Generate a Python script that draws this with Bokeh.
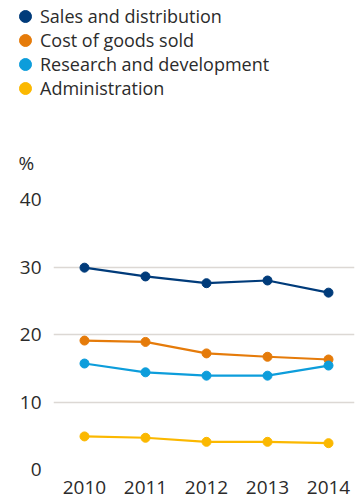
from bokeh.plotting import figure
from bokeh.layouts import column
from bokeh.models import Range1d, Legend, LegendItem, FixedTicker, Label
from bokeh.embed import file_html
from bokeh.resources import INLINE

# Operating expenses as a share of revenue, %
years = [2010, 2011, 2012, 2013, 2014]
sales_distribution = [29.9, 28.6, 27.6, 28.0, 26.2]
cost_of_goods_sold = [19.1, 18.9, 17.2, 16.7, 16.3]
research_development = [15.7, 14.4, 13.9, 13.9, 15.4]
administration = [4.9, 4.7, 4.1, 4.1, 3.9]

series_names = ["Sales and distribution", "Cost of goods sold",
                "Research and development", "Administration"]
series_values = [sales_distribution, cost_of_goods_sold,
                 research_development, administration]
series_colors = ["#003b7a", "#e57b0a", "#0d9ddb", "#fbb800"]

y_ticks = [0, 10, 20, 30, 40]

FONT = "Open Sans"
TEXT = "#2b2b2b"
WIDTH = 356
HEADER_H = 180
CHART_H = 499 - HEADER_H

# ---- header: legend and unit label --------------------------------------
key = figure(width=WIDTH, height=HEADER_H, output_backend="svg",
             toolbar_location=None, x_axis_type=None, y_axis_type=None,
             x_range=Range1d(0, 1), y_range=Range1d(0, 1),
             min_border=0)
key.frame_align = False
key.outline_line_color = None
key.xgrid.visible = False
key.ygrid.visible = False

ROW = 24
for i, (name, col) in enumerate(zip(series_names, series_colors)):
    # swatch renderer: a single point kept outside the visible range
    r = key.scatter(x=[-1], y=[-1], fill_color=col, line_color=col)
    row_center = 16 + ROW * i
    lg = Legend(items=[LegendItem(label=name, renderers=[r])],
                location=(10, HEADER_H - row_center - 15),
                glyph_width=30, glyph_height=30, padding=0, margin=0,
                spacing=0, label_standoff=0, border_line_color=None,
                background_fill_alpha=0, label_text_font=FONT,
                label_text_font_size="18px", label_text_color=TEXT)
    key.add_layout(lg, "center")

key.add_layout(Label(x=18, y=18, x_units="screen", y_units="screen",
                     text="%", text_font=FONT, text_font_size="19px",
                     text_color=TEXT, text_baseline="middle"))

# ---- line chart ---------------------------------------------------------
p = figure(width=WIDTH, height=CHART_H, output_backend="svg",
           toolbar_location=None,
           x_range=Range1d(2009.492, 2014.426), y_range=Range1d(0, 40),
           min_border_left=53, min_border_right=2, min_border_top=19,
           min_border_bottom=30)
p.frame_align = False
p.outline_line_color = None

for vals, col in zip(series_values, series_colors):
    p.line(years, vals, line_color=col, line_width=2.2)
    p.scatter(years, vals, size=9, fill_color=col, line_color=col)

p.xaxis.ticker = FixedTicker(ticks=years)
p.yaxis.ticker = FixedTicker(ticks=y_ticks)
for ax in (p.xaxis[0], p.yaxis[0]):
    ax.axis_line_color = None
    ax.major_tick_line_color = None
    ax.minor_tick_line_color = None
    ax.major_label_text_font = FONT
    ax.major_label_text_font_size = "19px"
    ax.major_label_text_color = TEXT
p.xaxis.major_label_standoff = 5
p.yaxis.major_label_standoff = 6

p.xgrid.grid_line_color = None
p.ygrid.ticker = FixedTicker(ticks=y_ticks)
p.ygrid.grid_line_color = "#dcd8d4"
p.ygrid.grid_line_width = 1.5

layout = column(key, p, spacing=0)
open("out.html", "w").write(file_html(layout, INLINE))
